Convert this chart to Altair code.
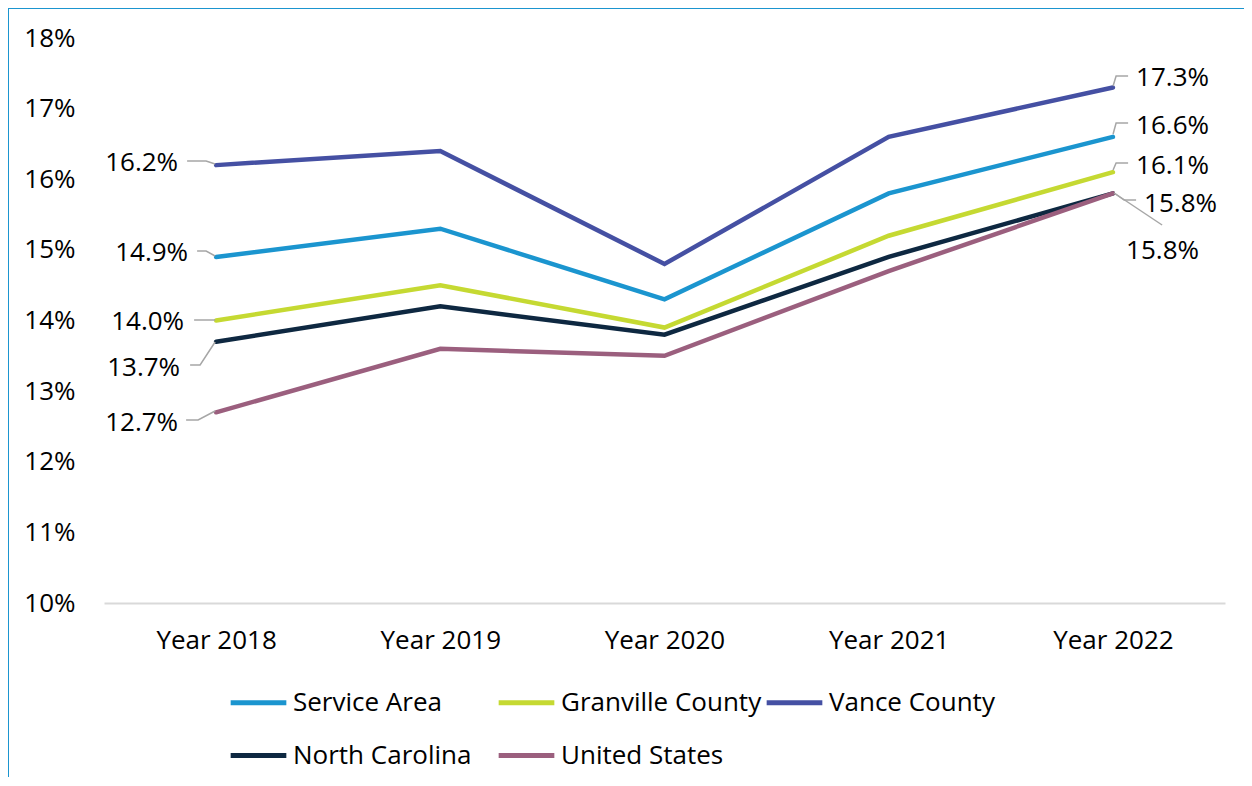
import altair as alt
import pandas as pd

years = [2018, 2019, 2020, 2021, 2022]
series = ["Service Area", "Granville County", "Vance County", "North Carolina", "United States"]
colors = ["#1B95CF", "#C5D932", "#4550A3", "#0E2841", "#9B5F7E"]

service_area = [14.9, 15.3, 14.3, 15.8, 16.6]
granville = [14.0, 14.5, 13.9, 15.2, 16.1]
vance = [16.2, 16.4, 14.8, 16.6, 17.3]
north_carolina = [13.7, 14.2, 13.8, 14.9, 15.8]
united_states = [12.7, 13.6, 13.5, 14.7, 15.8]

values = [service_area, granville, vance, north_carolina, united_states]

rows = []
for s, vals in zip(series, values):
    for y, v in zip(years, vals):
        rows.append({"series": s, "year": y, "value": v})
df = pd.DataFrame(rows)

FONT = "Open Sans"
FS = 26
W, H = 1121, 565
PX_YEAR = W / 5.0
PX_VAL = H / 8.0


def to_year(px):
    return 2018 + (px - 216) / PX_YEAR


def to_val(py):
    return 10 + (603 - py) / PX_VAL


# data-label anchors (pixels) for first/last points
left_labels = [
    ("Vance County", 178, 163),
    ("Service Area", 188, 253),
    ("Granville County", 184, 322),
    ("North Carolina", 180, 368),
    ("United States", 178, 423),
]
right_labels = [
    ("Vance County", 1136, 78),
    ("Service Area", 1136, 126),
    ("Granville County", 1136, 166),
    ("North Carolina", 1144, 204),
    ("United States", 1126, 251),
]
# leader lines as pixel polylines
leaders = [
    [(187, 161), (206, 161), (215, 164)],
    [(197, 251), (206, 251), (215, 256)],
    [(194, 320), (215, 320)],
    [(190, 365), (200, 365), (215, 342)],
    [(186, 420), (198, 420), (215, 411)],
    [(1113, 86), (1116, 76), (1128, 76)],
    [(1113, 134), (1116, 123), (1128, 123)],
    [(1113, 170), (1116, 163), (1128, 163)],
    [(1114, 193), (1124, 200), (1136, 200)],
    [(1114, 193), (1162, 225)],
]

lab_rows = []
for s, px, py in left_labels:
    v = values[series.index(s)][0]
    lab_rows.append({"lx": to_year(px), "ly": to_val(py), "text": f"{v:.1f}%", "side": "left"})
for s, px, py in right_labels:
    v = values[series.index(s)][-1]
    lab_rows.append({"lx": to_year(px), "ly": to_val(py), "text": f"{v:.1f}%", "side": "right"})
lab_df = pd.DataFrame(lab_rows)

lead_rows = []
for i, pts in enumerate(leaders):
    for j, (px, py) in enumerate(pts):
        lead_rows.append({"id": i, "order": j, "lx": to_year(px), "ly": to_val(py)})
lead_df = pd.DataFrame(lead_rows)

xscale = alt.Scale(domain=[2017.5, 2022.5], nice=False, zero=False)
yscale = alt.Scale(domain=[10, 18], nice=False, zero=False)

base_x = alt.X(
    "year:Q",
    scale=xscale,
    axis=alt.Axis(
        values=years,
        labelExpr="'Year ' + datum.value",
        title=None,
        ticks=False,
        grid=False,
        domainColor="#D9D9D9",
        domainWidth=2,
        labelFont=FONT,
        labelFontSize=FS,
        labelColor="#000000",
        labelPadding=24,
    ),
)
base_y = alt.Y(
    "value:Q",
    scale=yscale,
    axis=alt.Axis(
        values=list(range(10, 19)),
        labelExpr="datum.value + '%'",
        title=None,
        ticks=False,
        grid=False,
        domain=False,
        labelFont=FONT,
        labelFontSize=FS,
        labelColor="#000000",
        labelPadding=29,
        labelAlign="right",
    ),
)

lines = alt.Chart(df).mark_line(strokeWidth=4.5, strokeCap="round", clip=False).encode(
    x=base_x,
    y=base_y,
    color=alt.Color(
        "series:N",
        scale=alt.Scale(domain=series, range=colors),
        sort=series,
        legend=alt.Legend(
            title=None,
            orient="none",
            legendX=124,
            legendY=634,
            direction="horizontal",
            columns=3,
            gridAlign="all",
            symbolType="stroke",
            symbolStrokeWidth=5,
            symbolSize=3100,
            labelFont=FONT,
            labelFontSize=FS,
            labelColor="#000000",
            labelLimit=300,
            columnPadding=-6,
            rowPadding=9,
            labelOffset=4,
            symbolOffset=0,
        ),
    ),
)

leader_lines = alt.Chart(lead_df).mark_line(color="#A6A6A6", strokeWidth=1.5, clip=False).encode(
    x=alt.X("lx:Q", scale=xscale),
    y=alt.Y("ly:Q", scale=yscale),
    detail="id:N",
    order="order:Q",
)

left_text = alt.Chart(lab_df[lab_df.side == "left"]).mark_text(
    align="right", baseline="middle", font=FONT, fontSize=FS, color="#000000"
).encode(x=alt.X("lx:Q", scale=xscale), y=alt.Y("ly:Q", scale=yscale), text="text:N")

right_text = alt.Chart(lab_df[lab_df.side == "right"]).mark_text(
    align="left", baseline="middle", font=FONT, fontSize=FS, color="#000000"
).encode(x=alt.X("lx:Q", scale=xscale), y=alt.Y("ly:Q", scale=yscale), text="text:N")

frame_left = alt.Chart(pd.DataFrame({"k": [0]})).mark_rule(color="#1B95CF", strokeWidth=2).encode(
    x=alt.value(-96), y=alt.value(-30), y2=alt.value(760)
)
frame_top = alt.Chart(pd.DataFrame({"k": [0]})).mark_rule(color="#1B95CF", strokeWidth=2).encode(
    x=alt.value(-96), x2=alt.value(1150), y=alt.value(-30)
)

chart = (
    alt.layer(frame_left, frame_top, lines, leader_lines, left_text, right_text)
    .properties(
        width=W,
        height=H,
        background="#FFFFFF",
        autosize=alt.AutoSizeParams(type="none"),
        padding={"left": 96, "top": 30, "right": 19, "bottom": 174},
    )
    .configure_view(strokeWidth=0, stroke="transparent")
)

chart.save("out.html", embed_options={"renderer": "svg", "actions": False})
